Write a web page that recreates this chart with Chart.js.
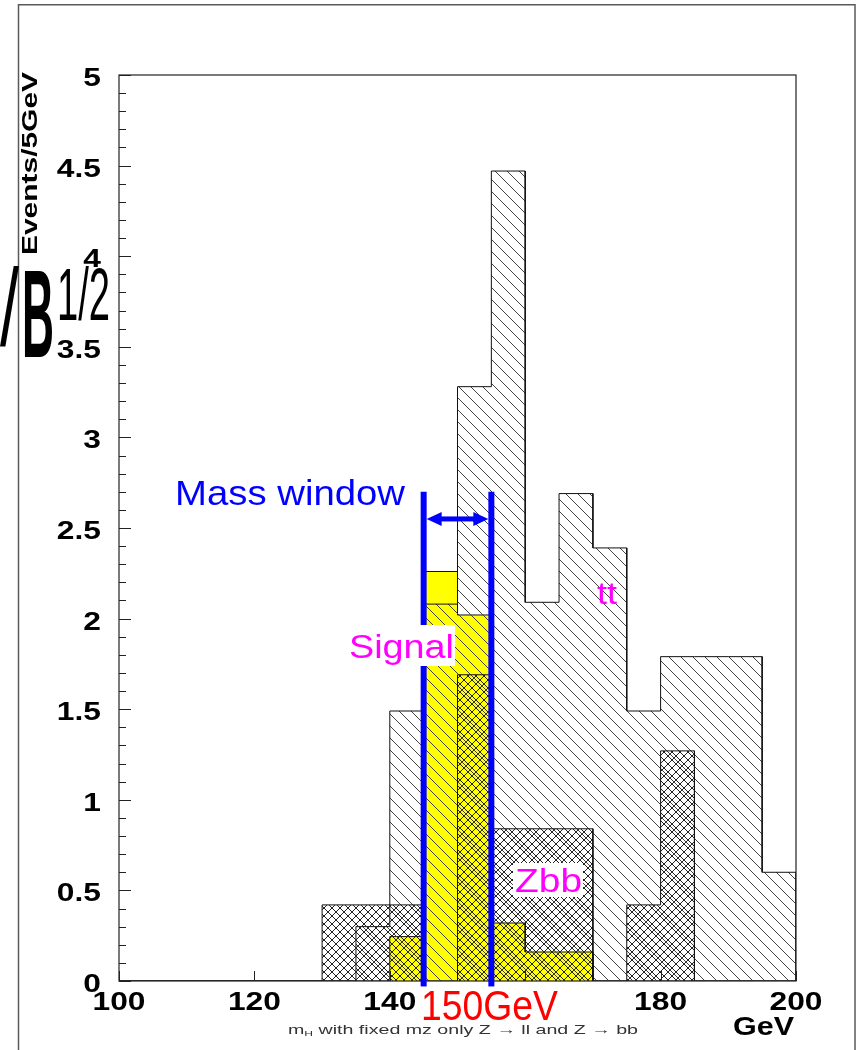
<!DOCTYPE html>
<html>
<head>
<meta charset="utf-8">
<script src="https://cdn.jsdelivr.net/npm/chart.js@4.4.1/dist/chart.umd.min.js"></script>
<style>
html, body { margin: 0; padding: 0; background: #ffffff; }
#wrap { position: relative; width: 859px; height: 1050px; }
</style>
</head>
<body>
<div id="wrap"><canvas id="c"></canvas></div>
<script>
// 5 GeV bin edges of the reconstructed Higgs mass
const binEdges = [100,105,110,115,120,125,130,135,140,145,150,155,160,165,170,175,180,185,190,195,200];
// events per 5 GeV bin, one entry per bin
const ttEvents     = [0,0,0,0,0,0,0,0.30,1.49,2.08,3.28,4.47,2.09,2.69,2.39,1.49,1.79,1.79,1.79,0.60];
const zbbEvents    = [0,0,0,0,0,0,0.42,0.42,0.42,0,1.69,0.84,0.84,0.84,0,0.42,1.27,0,0,0];
const signalEvents = [0,0,0,0,0,0,0,0,0.245,2.26,2.02,0.32,0.16,0.16,0,0,0,0,0,0];
// axis ticks
const xTickValues = [100,120,140,160,180,200];
const yTickValues = [0,0.5,1,1.5,2,2.5,3,3.5,4,4.5,5];
const yMinorStep = 0.1;
// mass window around 150 GeV: edges, top of the markers, arrow height
const massWindow = [145, 155];
const massWindowTop = 2.7;
const massWindowBottom = -0.03;
const massArrowY = 2.55;

const HELV = '"Liberation Sans", Arial, Helvetica, sans-serif';

// closed step outline of a histogram, as x/y points along the bin edges
function stepOutline(values) {
  const pts = [{ x: binEdges[0], y: 0 }];
  values.forEach((v, i) => {
    pts.push({ x: binEdges[i], y: v }, { x: binEdges[i + 1], y: v });
  });
  pts.push({ x: binEdges[binEdges.length - 1], y: 0 });
  return pts;
}

const canvas = document.getElementById('c');
const mainCtx = canvas.getContext('2d');

// hatch tiles: '\\' single diagonal, 'x' cross hatch
function hatchPattern(size, kind, color, lw) {
  const c = document.createElement('canvas');
  c.width = size; c.height = size;
  const g = c.getContext('2d');
  g.strokeStyle = color;
  g.lineWidth = lw;
  g.beginPath();
  // down-right diagonal
  g.moveTo(-2, -2); g.lineTo(size + 2, size + 2);
  g.moveTo(-2, size - 2); g.lineTo(2, size + 2);
  g.moveTo(size - 2, -2); g.lineTo(size + 2, 2);
  if (kind === 'x') {
    // up-right diagonal
    g.moveTo(-2, size + 2); g.lineTo(size + 2, -2);
    g.moveTo(-2, 2); g.lineTo(2, -2);
    g.moveTo(size - 2, size + 2); g.lineTo(size + 2, size - 2);
  }
  g.stroke();
  return mainCtx.createPattern(c, 'repeat');
}

const diagHatch = hatchPattern(12, '\\', '#444444', 1);
const crossHatch = hatchPattern(8, 'x', '#222222', 1);

// text squeezed or widened to a given width
function fitText(ctx, text, x, y, font, color, width, align, angle) {
  ctx.save();
  ctx.font = font;
  const natural = ctx.measureText(text).width;
  const sx = width ? width / natural : 1;
  ctx.translate(x, y);
  if (angle) ctx.rotate(angle);
  ctx.scale(sx, 1);
  ctx.fillStyle = color;
  ctx.textBaseline = 'alphabetic';
  ctx.textAlign = align || 'left';
  ctx.fillText(text, 0, 0);
  ctx.restore();
}

function stretchText(ctx, text, x, y, font, color, sx, align) {
  ctx.save();
  ctx.font = font;
  ctx.translate(x, y);
  ctx.scale(sx, 1);
  ctx.fillStyle = color;
  ctx.textBaseline = 'alphabetic';
  ctx.textAlign = align || 'left';
  ctx.fillText(text, 0, 0);
  ctx.restore();
}

const framePlugin = {
  id: 'histFrame',
  afterDatasetsDraw(chart) {
    const ctx = chart.ctx;
    const xs = chart.scales.x, ys = chart.scales.y;
    const a = chart.chartArea;

    // outer pad frame
    ctx.save();
    ctx.strokeStyle = '#5a5a5a';
    ctx.lineWidth = 1.5;
    ctx.strokeRect(18.5, 4.75, 836.5, 1070);
    ctx.restore();

    // plot frame
    ctx.save();
    ctx.strokeStyle = '#222222';
    ctx.lineWidth = 1.2;
    ctx.strokeRect(a.left, a.top, a.right - a.left, a.bottom - a.top);

    // y ticks (inward), majors and minors
    ctx.beginPath();
    const nMinor = Math.round((ys.max - ys.min) / yMinorStep);
    for (let k = 0; k <= nMinor; k++) {
      const v = ys.min + k * yMinorStep;
      const py = Math.round(ys.getPixelForValue(v)) + 0.5;
      const major = yTickValues.some(t => Math.abs(t - v) < 1e-6);
      ctx.moveTo(a.left, py);
      ctx.lineTo(a.left + (major ? 12 : 7), py);
    }
    // x ticks (inward)
    xTickValues.forEach(v => {
      const px = Math.round(xs.getPixelForValue(v)) + 0.5;
      ctx.moveTo(px, a.bottom);
      ctx.lineTo(px, a.bottom - 10);
    });
    ctx.lineWidth = 1;
    ctx.stroke();
    ctx.restore();

    // tick labels
    const tickFont = 'bold 25px ' + HELV;
    yTickValues.forEach(v => {
      const py = ys.getPixelForValue(v);
      stretchText(ctx, String(v), a.left - 18, py + 11, tickFont, '#000', 1.27, 'right');
    });
    xTickValues.forEach(v => {
      const px = xs.getPixelForValue(v);
      stretchText(ctx, String(v), px, a.bottom + 29, tickFont, '#000', 1.27, 'center');
    });

    // mass window markers
    const xl = xs.getPixelForValue(massWindow[0]);
    const xr = xs.getPixelForValue(massWindow[1]);
    const yTop = ys.getPixelForValue(massWindowTop);
    const yBot = ys.getPixelForValue(massWindowBottom);
    const yArr = ys.getPixelForValue(massArrowY);
    ctx.save();
    ctx.fillStyle = '#0000ff';
    ctx.fillRect(xl - 3, yTop, 6, yBot - yTop);
    ctx.fillRect(xr - 3, yTop, 6, yBot - yTop);
    // double arrow between the markers
    const l = xl + 3, r = xr - 3;
    ctx.fillRect(l + 10, yArr - 2.5, (r - l) - 20, 5);
    ctx.beginPath();
    ctx.moveTo(l, yArr); ctx.lineTo(l + 15, yArr - 7); ctx.lineTo(l + 15, yArr + 7); ctx.closePath();
    ctx.moveTo(r, yArr); ctx.lineTo(r - 15, yArr - 7); ctx.lineTo(r - 15, yArr + 7); ctx.closePath();
    ctx.fill();
    ctx.restore();

    // labels inside the plot
    fitText(ctx, 'Mass window', 175, 505, '35px ' + HELV, '#0000ff', 230);

    ctx.fillStyle = '#ffffff';
    ctx.fillRect(347, 625, 108, 41);
    fitText(ctx, 'Signal', 349, 657.5, '33.5px ' + HELV, '#ff00ff', 105);

    ctx.fillStyle = '#ffffff';
    ctx.fillRect(513, 863, 70, 34);
    fitText(ctx, 'Zbb', 515, 892, '33.5px ' + HELV, '#ff00ff', 67);

    fitText(ctx, 'tt', 597, 604, '32px ' + HELV, '#ff00ff', 20);

    // axis titles
    fitText(ctx, 'Events/5GeV', 37, 72, 'bold 22px ' + HELV, '#000', 183, 'right', -Math.PI / 2);
    fitText(ctx, 'GeV', 794, 1035, 'bold 25px ' + HELV, '#000', 61, 'right');

    // nominal Higgs mass under the axis, on a white box
    ctx.fillStyle = '#ffffff';
    ctx.fillRect(419, 988, 142, 34);
    fitText(ctx, '150GeV', 421, 1020, '42px ' + HELV, '#ff0000', 137);

    // caption: m_H with fixed mz only Z -> ll and Z -> bb
    ctx.save();
    const capFont = '13px ' + HELV, subFont = '8px ' + HELV;
    const rest = ' with fixed mz only Z \u2192 ll and Z \u2192 bb';
    ctx.font = capFont; const wm = ctx.measureText('m').width; const wr = ctx.measureText(rest).width;
    ctx.font = subFont; const wh = ctx.measureText('H').width;
    const capSx = 350 / (wm + wh + wr);
    ctx.translate(288, 1034);
    ctx.scale(capSx, 1);
    ctx.fillStyle = '#333333';
    ctx.font = capFont; ctx.fillText('m', 0, 0);
    ctx.font = subFont; ctx.fillText('H', wm, 2);
    ctx.font = capFont; ctx.fillText(rest, wm + wh, 0);
    ctx.restore();

    // remains of a wider title on the left edge: S/B^(1/2)
    stretchText(ctx, 'S/', 19, 345, '110px ' + HELV, '#000', 0.62, 'right');
    fitText(ctx, 'B', 22, 357, 'bold 124px ' + HELV, '#000', 32);
    fitText(ctx, '1/2', 57, 320, '74px ' + HELV, '#000', 53);
  }
};

new Chart(canvas, {
  type: 'line',
  data: {
    datasets: [
      { label: 'Zbb', data: stepOutline(zbbEvents), fill: 'origin', backgroundColor: crossHatch,
        borderColor: '#111111', borderWidth: 1, pointRadius: 0, tension: 0, order: 0 },
      { label: 'tt', data: stepOutline(ttEvents), fill: 'origin', backgroundColor: diagHatch,
        borderColor: '#111111', borderWidth: 1, pointRadius: 0, tension: 0, order: 1 },
      { label: 'Signal', data: stepOutline(signalEvents), fill: 'origin', backgroundColor: '#ffff00',
        borderColor: '#111111', borderWidth: 1, pointRadius: 0, tension: 0, order: 2 }
    ]
  },
  options: {
    responsive: true,
    maintainAspectRatio: false,
    animation: false,
    events: [],
    layout: { padding: { left: 119, top: 75, right: 63, bottom: 69 } },
    plugins: { legend: { display: false }, tooltip: { enabled: false }, title: { display: false } },
    scales: {
      x: { type: 'linear', min: 100, max: 200, display: false },
      y: { type: 'linear', min: 0, max: 5, display: false }
    }
  },
  plugins: [framePlugin]
});
</script>
</body>
</html>
